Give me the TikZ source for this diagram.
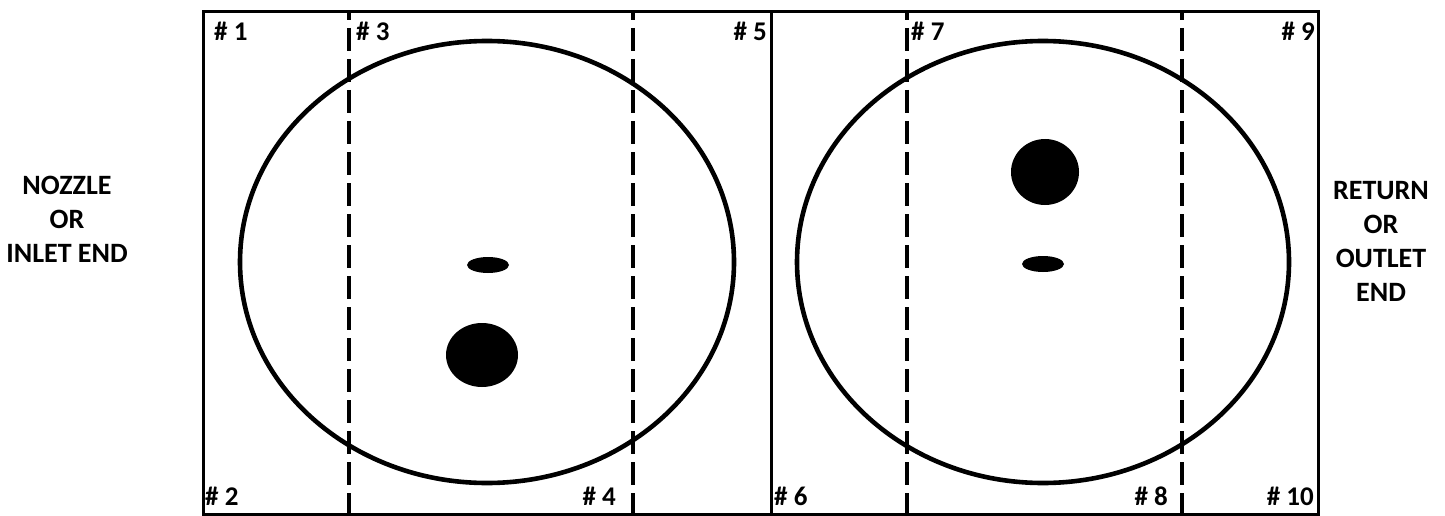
\documentclass[tikz,border=0pt]{standalone}
\usepackage{fontspec}
\setmainfont{Carlito}
\begin{document}
\begin{tikzpicture}[x=1pt,y=-1pt,
  frame/.style={line width=3pt},
  ring/.style={line width=4.6pt},
  cutline/.style={line width=4.4pt,dash pattern=on 23pt off 8pt,dash phase=15pt},
  blob/.style={fill=black},
  lbl/.style={inner sep=0pt,font=\bfseries\fontsize{27}{30}\selectfont},
  side/.style={inner sep=0pt,align=center,font=\bfseries\fontsize{28}{34}\selectfont}]
\useasboundingbox (0,0) rectangle (1445,516);
% frame
\coordinate (tl) at (203,12);
\coordinate (br) at (1318,514);
\draw[frame] (tl) rectangle (br);
\coordinate (mt) at (771,12);
\coordinate (mb) at (771,514);
\draw[frame] (mt) -- (mb);
% dashed lines
\foreach \x [count=\i] in {349,633,907,1182}{
  \coordinate (d\i t) at (\x,12);
  \coordinate (d\i b) at (\x,514);
  \draw[cutline] (d\i t) -- (d\i b);
}
% circles
\draw[ring] (487,262) ellipse [x radius=247pt, y radius=221pt];
\draw[ring] (1043,262) ellipse [x radius=246pt, y radius=221pt];
% blobs
\fill[blob] (488,265) ellipse [x radius=21pt, y radius=8pt];
\fill[blob] (482,355) ellipse [x radius=36pt, y radius=32pt];
\fill[blob] (1045,172) ellipse [x radius=34pt, y radius=33pt];
\fill[blob] (1043,264) ellipse [x radius=21pt, y radius=8pt];
% labels
\node[lbl,anchor=base west] (n1) at (214,41) {\# 1};
\node[lbl,anchor=base west] (n3) at (356,41) {\# 3};
\node[lbl,anchor=base east] (n5) at (767,41) {\# 5};
\node[lbl,anchor=base west] (n7) at (911,41) {\# 7};
\node[lbl,anchor=base east] (n9) at (1315,41) {\# 9};
\node[lbl,anchor=base west] (n2) at (205,505) {\# 2};
\node[lbl,anchor=base east] (n4) at (616,505) {\# 4};
\node[lbl,anchor=base west] (n6) at (774,505) {\# 6};
\node[lbl,anchor=base east] (n8) at (1168,505) {\# 8};
\node[lbl,anchor=base east] (n10) at (1314,505) {\# 10};
% side texts
\node[side] (inlet) at (67,219) {NOZZLE\\OR\\INLET END};
\node[side] (outlet) at (1381,241) {RETURN\\OR\\OUTLET\\END};
\end{tikzpicture}
\end{document}
